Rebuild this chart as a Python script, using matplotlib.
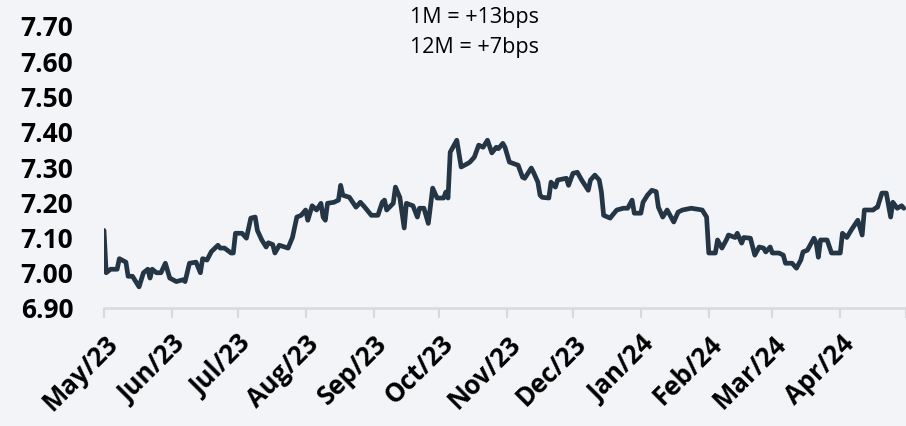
import pandas as pd
import matplotlib
matplotlib.use('Agg')
import matplotlib.pyplot as plt
import matplotlib.dates as mdates

# Valores (fecha, nivel)
fechas = [
    '2023-05-01', '2023-05-02', '2023-05-04', '2023-05-07', '2023-05-08', '2023-05-11',
    '2023-05-12', '2023-05-14', '2023-05-17', '2023-05-19', '2023-05-21', '2023-05-22',
    '2023-05-23', '2023-05-25', '2023-05-27', '2023-05-29', '2023-05-31', '2023-06-03',
    '2023-06-06', '2023-06-07', '2023-06-09', '2023-06-12', '2023-06-14', '2023-06-15',
    '2023-06-17', '2023-06-19', '2023-06-22', '2023-06-23', '2023-06-25', '2023-06-28',
    '2023-06-29', '2023-06-30', '2023-07-03', '2023-07-05', '2023-07-07', '2023-07-09',
    '2023-07-10', '2023-07-12', '2023-07-14', '2023-07-15', '2023-07-17', '2023-07-18',
    '2023-07-20', '2023-07-24', '2023-07-26', '2023-07-28', '2023-07-30', '2023-08-01',
    '2023-08-02', '2023-08-04', '2023-08-06', '2023-08-08', '2023-08-09', '2023-08-10',
    '2023-08-11', '2023-08-14', '2023-08-16', '2023-08-17', '2023-08-18', '2023-08-21',
    '2023-08-24', '2023-08-26', '2023-08-28', '2023-08-31', '2023-09-03', '2023-09-05',
    '2023-09-06', '2023-09-07', '2023-09-10', '2023-09-11', '2023-09-13', '2023-09-15',
    '2023-09-16', '2023-09-19', '2023-09-21', '2023-09-22', '2023-09-24', '2023-09-26',
    '2023-09-28', '2023-09-30', '2023-10-03', '2023-10-04', '2023-10-05', '2023-10-06',
    '2023-10-09', '2023-10-11', '2023-10-14', '2023-10-15', '2023-10-17', '2023-10-19',
    '2023-10-21', '2023-10-23', '2023-10-25', '2023-10-27', '2023-10-28', '2023-10-30',
    '2023-10-31', '2023-11-02', '2023-11-06', '2023-11-08', '2023-11-09', '2023-11-12',
    '2023-11-13', '2023-11-15', '2023-11-16', '2023-11-17', '2023-11-20', '2023-11-21',
    '2023-11-23', '2023-11-24', '2023-11-28', '2023-11-29', '2023-12-01', '2023-12-03',
    '2023-12-05', '2023-12-08', '2023-12-09', '2023-12-11', '2023-12-13', '2023-12-14',
    '2023-12-15', '2023-12-18', '2023-12-19', '2023-12-21', '2023-12-24', '2023-12-26',
    '2023-12-28', '2023-12-29', '2024-01-01', '2024-01-02', '2024-01-04', '2024-01-06',
    '2024-01-08', '2024-01-09', '2024-01-11', '2024-01-13', '2024-01-16', '2024-01-18',
    '2024-01-20', '2024-01-24', '2024-01-29', '2024-01-31', '2024-02-01', '2024-02-04',
    '2024-02-05', '2024-02-07', '2024-02-09', '2024-02-10', '2024-02-13', '2024-02-14',
    '2024-02-16', '2024-02-17', '2024-02-20', '2024-02-22', '2024-02-24', '2024-02-26',
    '2024-02-27', '2024-02-29', '2024-03-01', '2024-03-04', '2024-03-06', '2024-03-07',
    '2024-03-10', '2024-03-12', '2024-03-14', '2024-03-15', '2024-03-17', '2024-03-20',
    '2024-03-21', '2024-03-22', '2024-03-23', '2024-03-26', '2024-03-28', '2024-04-01',
    '2024-04-02', '2024-04-04', '2024-04-06', '2024-04-09', '2024-04-11', '2024-04-12',
    '2024-04-16', '2024-04-17', '2024-04-18', '2024-04-20', '2024-04-22', '2024-04-24',
    '2024-04-25', '2024-04-27', '2024-04-29', '2024-04-30',
]
valores = [
    7.12, 7.00, 7.01, 7.01, 7.04, 7.03,
    6.99, 6.99, 6.96, 7.00, 7.01, 6.985,
    7.01, 7.00, 7.00, 7.027, 6.985, 6.975,
    6.98, 6.975, 7.027, 7.03, 7.00, 7.04,
    7.036, 7.06, 7.078, 7.07, 7.07, 7.056,
    7.056, 7.112, 7.112, 7.098, 7.155, 7.158,
    7.12, 7.093, 7.073, 7.085, 7.08, 7.056,
    7.078, 7.07, 7.10, 7.158, 7.163, 7.178,
    7.149, 7.19, 7.178, 7.197, 7.158, 7.149,
    7.197, 7.20, 7.206, 7.248, 7.22, 7.214,
    7.186, 7.20, 7.186, 7.163, 7.163, 7.20,
    7.206, 7.178, 7.197, 7.243, 7.214, 7.127,
    7.197, 7.19, 7.158, 7.183, 7.183, 7.14,
    7.24, 7.212, 7.212, 7.229, 7.212, 7.342,
    7.376, 7.30, 7.31, 7.314, 7.328, 7.362,
    7.356, 7.376, 7.34, 7.356, 7.352, 7.367,
    7.356, 7.314, 7.305, 7.271, 7.268, 7.297,
    7.285, 7.257, 7.22, 7.214, 7.212, 7.257,
    7.243, 7.263, 7.268, 7.248, 7.282, 7.285,
    7.263, 7.234, 7.263, 7.277, 7.263, 7.229,
    7.163, 7.155, 7.163, 7.178, 7.183, 7.183,
    7.206, 7.169, 7.169, 7.20, 7.22, 7.234,
    7.23, 7.186, 7.158, 7.178, 7.144, 7.172,
    7.178, 7.183, 7.178, 7.158, 7.056, 7.056,
    7.093, 7.07, 7.093, 7.107, 7.10, 7.112,
    7.084, 7.10, 7.098, 7.05, 7.073, 7.07,
    7.059, 7.073, 7.056, 7.056, 7.05, 7.027,
    7.027, 7.013, 7.036, 7.059, 7.064, 7.098,
    7.085, 7.044, 7.093, 7.093, 7.056, 7.056,
    7.112, 7.10, 7.121, 7.149, 7.107, 7.178,
    7.178, 7.183, 7.186, 7.226, 7.226, 7.158,
    7.20, 7.183, 7.19, 7.183,
]
anotaciones = ['1M = +13bps', '12M = +7bps']

COLOR_LINEA = '#243545'
COLOR_FONDO = '#f2f4f8'
COLOR_EJE = '#d9d9d9'

df = pd.DataFrame({'fecha': pd.to_datetime(fechas), 'valor': valores})

plt.rcParams['font.family'] = ['Open Sans', 'DejaVu Sans']

fig = plt.figure(figsize=(9.06, 4.26), dpi=100, facecolor=COLOR_FONDO)
ax = fig.add_axes([104 / 906, 1 - 308 / 426, 1 - 104 / 906, (308 - 26) / 426])
ax.set_facecolor(COLOR_FONDO)

ax.plot(df['fecha'], df['valor'], color=COLOR_LINEA, linewidth=3.4,
        solid_joinstyle='round', solid_capstyle='round')

ax.set_ylim(6.90, 7.70)
ax.set_yticks([6.90 + 0.1 * i for i in range(9)])
ax.yaxis.set_major_formatter(plt.FuncFormatter(lambda v, p: f'{v:.2f}'))
ax.set_xlim(pd.Timestamp('2023-05-01'), pd.Timestamp('2024-05-01'))
ax.xaxis.set_major_locator(mdates.MonthLocator())
ax.xaxis.set_major_formatter(mdates.DateFormatter('%b/%y'))

for lado in ['top', 'right', 'left']:
    ax.spines[lado].set_visible(False)
ax.spines['bottom'].set_color(COLOR_EJE)
ax.spines['bottom'].set_linewidth(1.8)

ax.tick_params(axis='y', length=0, pad=22, labelsize=19)
ax.tick_params(axis='x', length=7, width=1.5, color=COLOR_EJE, labelsize=18.5, pad=9)
for lbl in ax.get_yticklabels():
    lbl.set_fontweight('bold')
for lbl in ax.get_xticklabels():
    lbl.set_fontweight('bold')
    lbl.set_rotation(45)
    lbl.set_ha('right')
    lbl.set_rotation_mode('anchor')
ax.get_xticklabels()[-1].set_visible(False)

fig.text(410 / 906, 1 - 23 / 426, anotaciones[0], fontsize=15.5, va='baseline', ha='left')
fig.text(410 / 906, 1 - 53 / 426, anotaciones[1], fontsize=15.5, va='baseline', ha='left')

fig.savefig('out.png', dpi=100, facecolor=COLOR_FONDO)
